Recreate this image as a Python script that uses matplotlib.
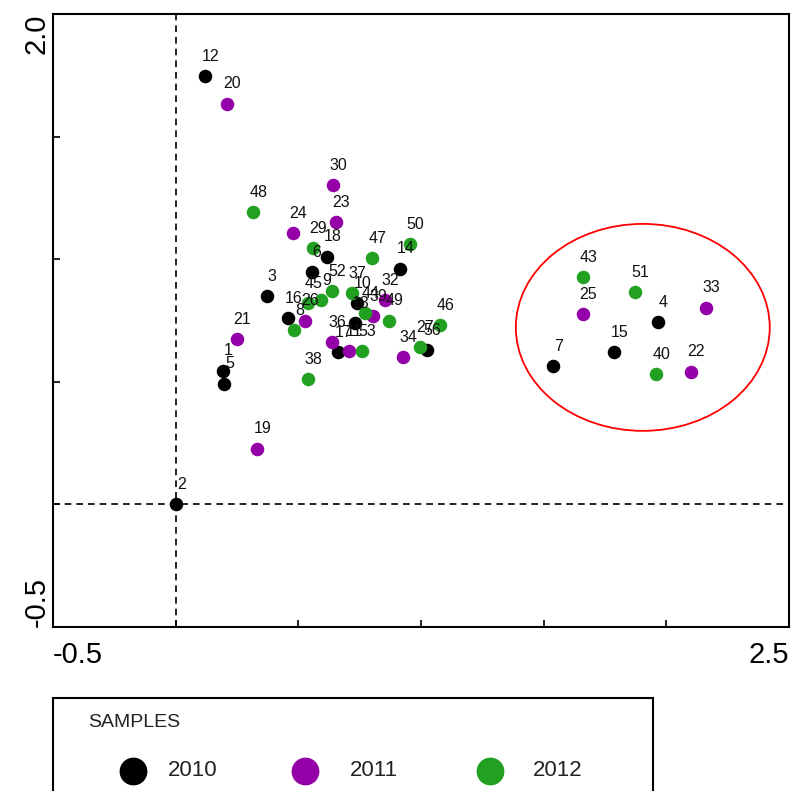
import matplotlib
matplotlib.use("Agg")
import matplotlib.pyplot as plt
from matplotlib.patches import Ellipse, Rectangle
from matplotlib.lines import Line2D

plt.rcParams['font.family'] = ['Liberation Sans', 'DejaVu Sans']

# sample scores
x_2010 = [0.118, 0.0, 0.192, 0.196, 0.371, 0.457, 0.554, 0.616, 0.913, 0.738,
          0.730, 0.660, 1.023, 1.537, 1.786, 1.965]
y_2010 = [1.746, 0.0, 0.546, 0.493, 0.848, 0.759, 0.946, 1.011, 0.962, 0.820,
          0.738, 0.620, 0.628, 0.563, 0.620, 0.742]
lab_2010 = ["12", "2", "1", "5", "3", "16", "6", "18", "14", "10",
            "13", "17", "56", "7", "15", "4"]

x_2011 = [0.208, 0.640, 0.652, 0.477, 0.249, 0.330, 0.526, 0.852, 0.803, 0.636,
          0.705, 0.925, 1.659, 2.161, 2.099]
y_2011 = [1.635, 1.301, 1.150, 1.105, 0.673, 0.228, 0.750, 0.832, 0.767, 0.661,
          0.624, 0.600, 0.775, 0.803, 0.542]
lab_2011 = ["20", "30", "23", "24", "21", "19", "26", "32", "39", "36",
            "11", "34", "25", "33", "22"]

x_2012 = [0.314, 0.558, 0.799, 0.954, 0.636, 0.717, 0.591, 0.538, 0.481, 0.770,
          0.868, 0.758, 0.995, 1.076, 0.538, 1.659, 1.871, 1.957]
y_2012 = [1.191, 1.044, 1.003, 1.060, 0.869, 0.861, 0.832, 0.820, 0.710, 0.779,
          0.750, 0.624, 0.640, 0.730, 0.510, 0.926, 0.865, 0.530]
lab_2012 = ["48", "29", "47", "50", "52", "37", "9", "45", "8", "44",
            "49", "53", "27", "46", "38", "43", "51", "40"]

years = ["2010", "2011", "2012"]
colors = ["#000000", "#9400A8", "#22A022"]

# group ellipse (centre, width, height)
ell_center = (1.904, 0.722)
ell_w, ell_h = 1.035, 0.844

fig = plt.figure(figsize=(7.94, 7.91), dpi=100)
ax = fig.add_axes([0.0668, 0.2073, 0.9269, 0.7750])

series = [(x_2010, y_2010, lab_2010), (x_2011, y_2011, lab_2011), (x_2012, y_2012, lab_2012)]
for (xs, ys, labs), c in zip(series, colors):
    ax.scatter(xs, ys, s=95, color=c, zorder=3, linewidths=0)
    for x, y, t in zip(xs, ys, labs):
        ax.annotate(t, (x, y), xytext=(4, 9), textcoords="offset points",
                    ha="center", va="bottom", fontsize=11.5, color="#111111", zorder=4)

ax.axvline(0, color="black", lw=1.2, ls=(0, (4, 3)), zorder=1)
ax.axhline(0, color="black", lw=1.2, ls=(0, (4, 3)), zorder=1)

ax.add_patch(Ellipse(ell_center, ell_w, ell_h, fill=False, edgecolor="red", lw=1.3))

ax.set_xlim(-0.5, 2.5)
ax.set_ylim(-0.5, 2.0)
ax.set_xticks([-0.5, 0, 0.5, 1.0, 1.5, 2.0, 2.5])
ax.set_xticklabels(["-0.5", "", "", "", "", "", "2.5"])
ax.set_yticks([-0.5, 0, 0.5, 1.0, 1.5, 2.0])
ax.set_yticklabels(["-0.5", "", "", "", "", "2.0"], rotation=90)
ax.tick_params(direction="in", length=5, width=1.2, labelsize=21, colors="black")
ax.tick_params(axis="x", pad=10)
ax.tick_params(axis="y", pad=2)
xl = ax.get_xticklabels()
xl[0].set_ha("left")
xl[-1].set_ha("right")
yl = ax.get_yticklabels()
yl[0].set_va("bottom")
yl[-1].set_va("top")
for sp in ax.spines.values():
    sp.set_linewidth(1.5)

# legend box below the plot
fig.add_artist(Rectangle((0.0668, -0.05), 0.7557, 0.1676, transform=fig.transFigure,
                         fill=False, edgecolor="black", lw=1.5))
fig.text(0.1108, 0.0872, "SAMPLES", fontsize=14, color="#222222", ha="left", va="center")
leg_mx = [0.1675, 0.3841, 0.6171]
leg_tx = [0.2116, 0.4408, 0.6713]
for yr, c, mx, tx in zip(years, colors, leg_mx, leg_tx):
    fig.add_artist(Line2D([mx], [0.0253], marker="o", ms=19, color=c, lw=0,
                          transform=fig.transFigure))
    fig.text(tx, 0.0253, yr, fontsize=16, color="#222222", ha="left", va="center")

fig.savefig("out.png", dpi=100)
